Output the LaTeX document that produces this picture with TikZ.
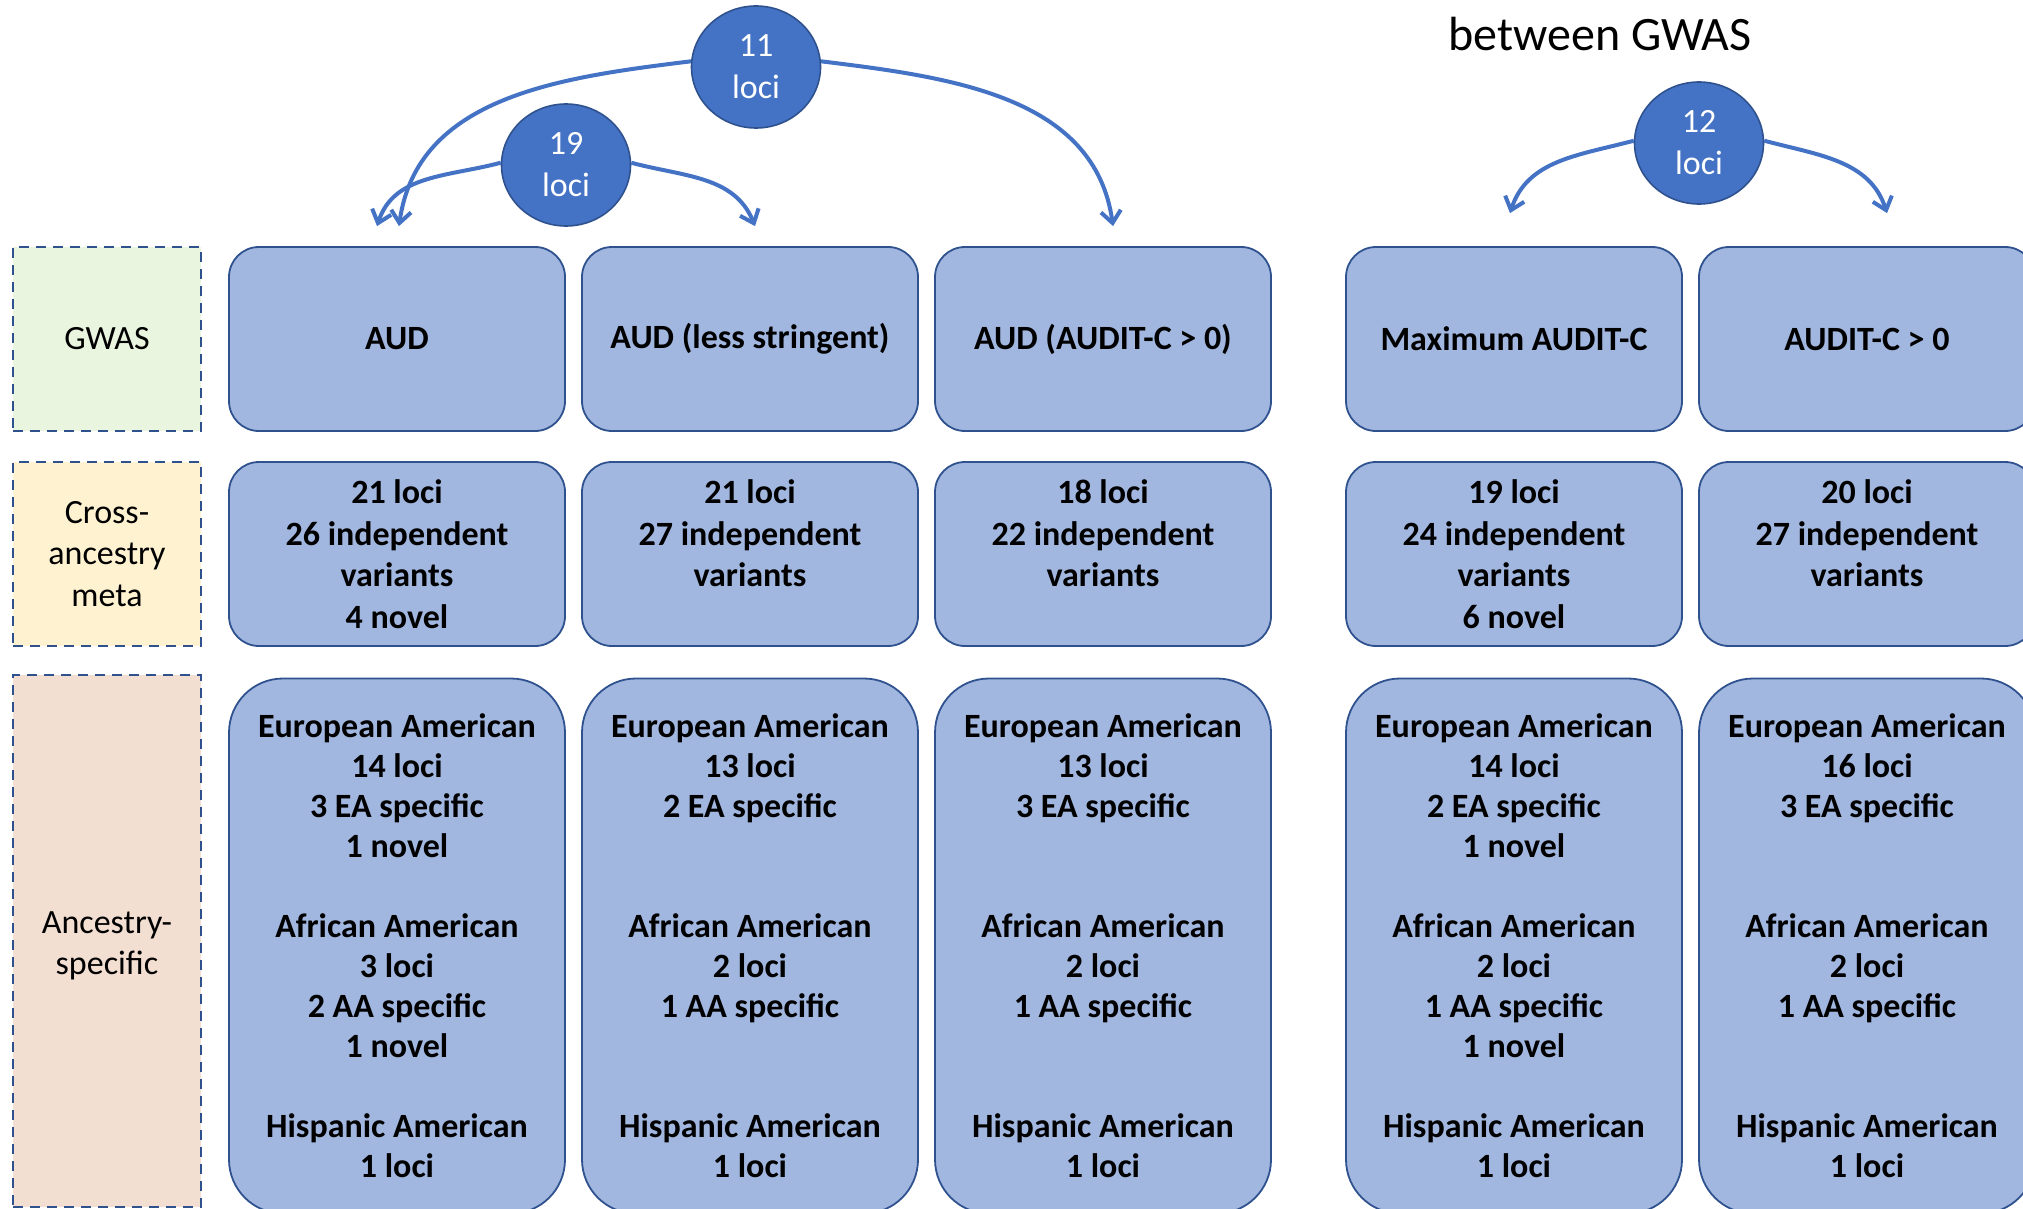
\documentclass[tikz,border=0pt]{standalone}
\usepackage{fontspec}
\setmainfont{Carlito}
\usepackage{xcolor}
\usepackage{tikz}
\usetikzlibrary{arrows.meta,shapes.geometric}

\definecolor{boxfill}{HTML}{A2B7E0}
\definecolor{boxline}{HTML}{2F528F}
\definecolor{locifill}{HTML}{4472C4}
\definecolor{gwasfill}{HTML}{E9F5DF}
\definecolor{metafill}{HTML}{FFF2D1}
\definecolor{ancfill}{HTML}{F3DFD2}

\begin{document}
\begin{tikzpicture}[x=0.5pt,y=-0.5pt,
    gwasbox/.style={draw=boxline, fill=boxfill, line width=0.9pt, rounded corners=15pt,
        minimum width=168pt, minimum height=92pt, align=center,
        font=\fontsize{17}{20.8}\selectfont\bfseries},
    ancbox/.style={gwasbox, rounded corners=27pt, minimum height=267.5pt,
        font=\fontsize{17}{20}\selectfont\bfseries},
    rowlabel/.style={draw=boxline, line width=1.3pt, dash pattern=on 5pt off 3.5pt,
        minimum width=94pt, align=center, font=\fontsize{17}{20.8}\selectfont},
    lociball/.style={ellipse, draw=boxline, fill=locifill, line width=0.8pt,
        minimum width=64.5pt, minimum height=61pt, inner sep=0pt, text=white,
        align=center, font=\fontsize{17}{21}\selectfont},
    locarrow/.style={draw=locifill, line width=2pt, -{Straight Barb[length=6pt,width=10pt]}}]
        \useasboundingbox (0,0) rectangle (2023,1209);
        \clip (0,0) rectangle (2023,1209);

        % Row labels
        \node[rowlabel, fill=gwasfill, minimum height=92pt] (lgwas) at (107,339) {GWAS};
        \node[rowlabel, fill=metafill, minimum height=92pt] (lmeta) at (107,554) {Cross-\\ancestry\\meta};
        \node[rowlabel, fill=ancfill, minimum height=266pt] (lanc) at (107,941) {};
        \node[font=\fontsize{17}{20.8}\selectfont, align=center] (lanctext) at (107,946) {Ancestry-\\specific};

        % GWAS row
        \foreach \n/\x/\t in {1/397/AUD, 2/750/AUD (less stringent), 3/1103/AUD (AUDIT-C > 0),
                4/1514/Maximum AUDIT-C, 5/1867/AUDIT-C > 0}
            \node[gwasbox] (gwas\n) at (\x,339) {\t};

        % Cross-ancestry meta row
        \foreach \n/\x/\t in {1/397/{21 loci\\26 independent\\variants\\4 novel},
                2/750/{21 loci\\27 independent\\variants\\~},
                3/1103/{18 loci\\22 independent\\variants\\~},
                4/1514/{19 loci\\24 independent\\variants\\6 novel},
                5/1867/{20 loci\\27 independent\\variants\\~}}
            \node[gwasbox] (meta\n) at (\x,554) {\t};

        % Ancestry-specific row
        \node[ancbox] (anc1) at (397,946) {European American\\14 loci\\3 EA specific\\1 novel\\~\\
            African American\\3 loci\\2 AA specific\\1 novel\\~\\Hispanic American\\1 loci};
        \node[ancbox] (anc2) at (750,946) {European American\\13 loci\\2 EA specific\\~\\~\\
            African American\\2 loci\\1 AA specific\\~\\~\\Hispanic American\\1 loci};
        \node[ancbox] (anc3) at (1103,946) {European American\\13 loci\\3 EA specific\\~\\~\\
            African American\\2 loci\\1 AA specific\\~\\~\\Hispanic American\\1 loci};
        \node[ancbox] (anc4) at (1514,946) {European American\\14 loci\\2 EA specific\\1 novel\\~\\
            African American\\2 loci\\1 AA specific\\1 novel\\~\\Hispanic American\\1 loci};
        \node[ancbox] (anc5) at (1867,946) {European American\\16 loci\\3 EA specific\\~\\~\\
            African American\\2 loci\\1 AA specific\\~\\~\\Hispanic American\\1 loci};

        % Shared loci
        \node[font=\fontsize{24}{29}\selectfont] (shared) at (1600,34) {between GWAS};
        \node[lociball] (c11) at (756,67) {11\\loci};
        \node[lociball] (c19) at (566,165) {19\\loci};
        \node[lociball] (c12) at (1699,143) {12\\loci};

        \coordinate (t19a) at ([xshift=-10pt,yshift=10pt]gwas1.north);
        \coordinate (t11a) at ([xshift=1pt,yshift=10pt]gwas1.north);
        \coordinate (t19b) at ([xshift=2.5pt,yshift=10pt]gwas2.north);
        \coordinate (t11b) at ([xshift=5pt,yshift=10pt]gwas3.north);
        \coordinate (t12a) at ([xshift=-2pt,yshift=16.5pt]gwas4.north);
        \coordinate (t12b) at ([xshift=10pt,yshift=16.5pt]gwas5.north);

        % Arrows
        \draw[locarrow] (c11.175) to[out=187,in=82] (t11a);
        \draw[locarrow] (c11.5) to[out=-7,in=98] (t11b);
        \draw[locarrow] (c19.178) to[out=195,in=72] (t19a);
        \draw[locarrow] (c19.2) to[out=-15,in=112] (t19b);
        \draw[locarrow] (c12.178) to[out=195,in=72] (t12a);
        \draw[locarrow] (c12.2) to[out=-15,in=108] (t12b);
    \end{tikzpicture}
\end{document}
